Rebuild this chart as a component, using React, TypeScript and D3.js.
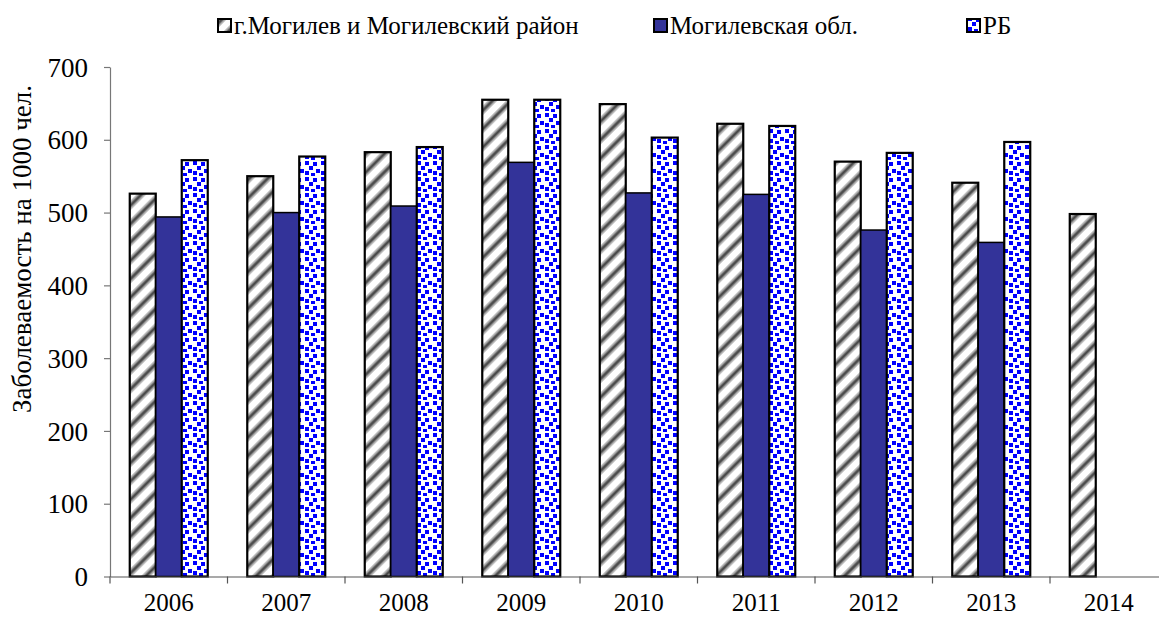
import React, { useEffect, useRef } from 'react';
import * as d3 from 'd3';

const years = ['2006', '2007', '2008', '2009', '2010', '2011', '2012', '2013', '2014'];
const seriesNames = ['г.Могилев и Могилевский район', 'Могилевская обл.', 'РБ'];
const mogilevCity = [526, 550, 583, 655, 649, 622, 570, 541, 498];
const mogilevRegion = [494, 500, 509, 569, 527, 525, 476, 459, null];
const belarus = [572, 577, 590, 655, 603, 619, 582, 597, null];
const yTicks = [0, 100, 200, 300, 400, 500, 600, 700];
const yTitle = 'Заболеваемость на 1000 чел.';

const FONT = "'Liberation Serif', 'DejaVu Serif', 'Times New Roman', serif";

export default function App() {
  const svgRef = useRef<SVGSVGElement>(null);

  useEffect(() => {
    if (!svgRef.current) return;
    const width = 1159;
    const height = 620;
    const svg = d3.select(svgRef.current);
    svg.selectAll('*').remove();
    svg.attr('width', width).attr('height', height);

    const margin = { top: 67, left: 110, bottom: 576.5 };
    const plotRight = 1167.5;

    const defs = svg.append('defs');

    // diagonal hatch
    const hatch = defs.append('pattern')
      .attr('id', 'hatch')
      .attr('patternUnits', 'userSpaceOnUse')
      .attr('width', 13)
      .attr('height', 13)
      .attr('patternTransform', 'rotate(45)');
    hatch.append('rect').attr('width', 13).attr('height', 13).attr('fill', '#fff');
    hatch.append('rect').attr('x', 0).attr('width', 7).attr('height', 13).attr('fill', '#c4c4c4');
    hatch.append('rect').attr('x', 1.5).attr('width', 4).attr('height', 13).attr('fill', '#808080');
    hatch.append('rect').attr('x', 2.5).attr('width', 2).attr('height', 13).attr('fill', '#444');

    // blue dots
    const dots = defs.append('pattern')
      .attr('id', 'dots')
      .attr('patternUnits', 'userSpaceOnUse')
      .attr('width', 16)
      .attr('height', 16);
    dots.append('rect').attr('width', 16).attr('height', 16).attr('fill', '#fff');
    [[1, 1], [9, 2], [5, 6], [12, 9], [1, 11], [7, 13]].forEach(([x, y]) => {
      dots.append('rect')
        .attr('x', x).attr('y', y)
        .attr('width', 4).attr('height', 4)
        .attr('fill', '#0000ff');
    });

    const fills = ['url(#hatch)', '#333399', 'url(#dots)'];
    const seriesValues = [mogilevCity, mogilevRegion, belarus];

    const x0 = d3.scaleBand<string>()
      .domain(years)
      .range([margin.left, plotRight])
      .paddingInner(0)
      .paddingOuter(0);

    const x1 = d3.scaleBand<string>()
      .domain(seriesNames)
      .range([0, x0.bandwidth()])
      .paddingInner(0)
      .paddingOuter(0.76);

    const y = d3.scaleLinear()
      .domain([0, 700])
      .range([margin.bottom, margin.top]);

    // bars
    seriesNames.forEach((name, si) => {
      svg.append('g')
        .selectAll('rect')
        .data(years.map((yr, i) => ({ yr, v: seriesValues[si][i] })).filter(d => d.v != null))
        .join('rect')
        .attr('x', d => x0(d.yr)! + x1(name)!)
        .attr('y', d => y(d.v as number))
        .attr('width', x1.bandwidth())
        .attr('height', d => y(0) - y(d.v as number))
        .attr('fill', fills[si])
        .attr('stroke', '#000')
        .attr('stroke-width', si === 1 ? 1.5 : 2.2);
    });

    // y axis
    const yAxis = svg.append('g')
      .attr('transform', `translate(${margin.left},0)`)
      .call(d3.axisLeft(y).tickValues(yTicks).tickSize(6).tickSizeOuter(0).tickPadding(16));
    yAxis.select('.domain').attr('stroke', '#777').attr('stroke-width', 1.2);
    yAxis.selectAll('line').attr('stroke', '#777').attr('stroke-width', 1.2);
    yAxis.selectAll('text')
      .style('font-family', FONT)
      .style('font-size', '27px')
      .attr('fill', '#000')
      .attr('dy', '0.34em');

    // x axis
    const xAxis = svg.append('g')
      .attr('transform', `translate(0,${margin.bottom})`)
      .call(d3.axisBottom(x0).tickSize(0).tickSizeOuter(0).tickPadding(17));
    xAxis.select('.domain').attr('stroke', '#555').attr('stroke-width', 1.2);
    xAxis.selectAll('text')
      .style('font-family', FONT)
      .style('font-size', '25px')
      .attr('fill', '#000');
    // category boundary ticks
    xAxis.append('g')
      .selectAll('line')
      .data(years)
      .join('line')
      .attr('x1', d => x0(d)!)
      .attr('x2', d => x0(d)!)
      .attr('y1', 0)
      .attr('y2', 7)
      .attr('stroke', '#555')
      .attr('stroke-width', 1.2);

    // y title
    svg.append('text')
      .attr('transform', `translate(31,${249}) rotate(-90)`)
      .attr('text-anchor', 'middle')
      .style('font-family', FONT)
      .style('font-size', '27px')
      .attr('fill', '#000')
      .text(yTitle);

    // legend
    const legendX = [218, 654, 967];
    const legend = svg.append('g');
    seriesNames.forEach((name, i) => {
      const g = legend.append('g').attr('transform', `translate(${legendX[i]},0)`);
      g.append('rect')
        .attr('x', 0).attr('y', 19)
        .attr('width', 13).attr('height', 13)
        .attr('fill', fills[i])
        .attr('stroke', '#000')
        .attr('stroke-width', 2);
      g.append('text')
        .attr('x', 16)
        .attr('y', 34)
        .style('font-family', FONT)
        .style('font-size', '25px')
        .attr('fill', '#000')
        .text(name);
    });
  }, []);

  return (
    <div style={{ position: 'absolute', left: 0, top: 0, width: 1159, height: 620, overflow: 'hidden', background: '#fff' }}>
      <svg ref={svgRef} style={{ display: 'block' }} />
    </div>
  );
}
